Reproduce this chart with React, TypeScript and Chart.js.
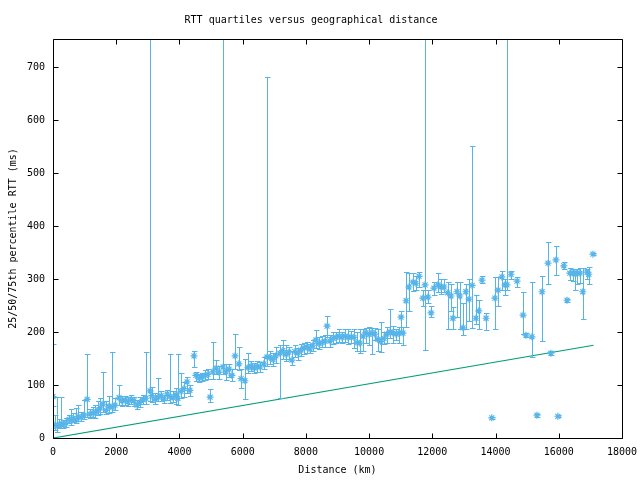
import React, { useEffect, useRef } from "react";
import { Chart, registerables } from "chart.js";

Chart.register(...registerables);

const TITLE = "RTT quartiles versus geographical distance";
const X_TITLE = "Distance (km)";
const Y_TITLE = "25/50/75th percentile RTT (ms)";
const X_TICKS = [0, 2000, 4000, 6000, 8000, 10000, 12000, 14000, 16000, 18000];
const Y_TICKS = [0, 100, 200, 300, 400, 500, 600, 700];
const X_MAX = 18000;
const Y_MAX = 753;

// distance bins (km)
const distanceKm = [
  0, 60, 130, 190, 250, 320, 410, 510, 570, 630, 730, 790, 890, 980, 1080, 1170, 1270, 1330, 1420, 1490,
  1580, 1680, 1770, 1870, 1960, 2090, 2180, 2280, 2370, 2470, 2560, 2660, 2750, 2850, 2940, 3070, 3130, 3230, 3320, 3420,
  3510, 3610, 3700, 3800, 3890, 3950, 4050, 4140, 4240, 4330, 4460, 4520, 4620, 4710, 4810, 4900, 4970, 5060, 5160, 5250,
  5380, 5470, 5570, 5660, 5760, 5880, 5950, 6070, 6170, 6260, 6360, 6450, 6550, 6670, 6770, 6860, 6960, 7050, 7180, 7270,
  7370, 7460, 7560, 7650, 7750, 7840, 7940, 8030, 8130, 8220, 8320, 8410, 8510, 8600, 8670, 8760, 8860, 8950, 9050, 9140,
  9240, 9330, 9430, 9520, 9620, 9710, 9810, 9900, 10000, 10090, 10180, 10280, 10370, 10470, 10560, 10660, 10750, 10850, 10940, 11010,
  11070, 11170, 11260, 11390, 11480, 11580, 11700, 11770, 11860, 11960, 12050, 12180, 12270, 12370, 12490, 12590, 12650, 12780, 12870, 12970,
  13060, 13160, 13260, 13380, 13470, 13570, 13700, 13880, 13980, 14080, 14200, 14300, 14360, 14490, 14680, 14870, 14960, 15150, 15310, 15470,
  15660, 15750, 15910, 15970, 16160, 16260, 16350, 16450, 16510, 16570, 16670, 16760, 16890, 16950, 17080,
];

// 25th percentile RTT (ms)
const rttP25 = [
  60, 15, 12, 18, 18, 18, 20, 28, 25, 30, 28, 33, 32, 36, 40, 38, 40, 38, 43, 45,
  50, 45, 48, 50, 52, 62, 60, 62, 60, 64, 60, 55, 58, 64, 65, 70, 68, 65, 70, 70,
  66, 72, 66, 68, 65, 62, 75, 78, 85, 80, 134, 108, 105, 108, 110, 112, 68, 112, 120, 112,
  120, 110, 116, 108, 130, 128, 95, 73, 122, 126, 122, 125, 124, 130, 135, 140, 135, 142, 75, 150,
  145, 150, 138, 152, 148, 155, 158, 160, 160, 165, 170, 168, 172, 172, 190, 172, 178, 180, 182, 180,
  182, 178, 180, 170, 165, 160, 165, 180, 175, 158, 185, 165, 162, 178, 180, 188, 180, 185, 180, 200,
  175, 210, 240, 278, 280, 285, 250, 166, 255, 228, 270, 275, 272, 275, 205, 240, 205, 228, 205, 195,
  205, 220, 208, 216, 205, 292, 204, 35, 205, 250, 280, 270, 280, 300, 285, 196, 190, 153, 40, 183,
  290, 156, 307, 39, 318, 257, 298, 296, 280, 290, 293, 224, 300, 290, 345,
];

// median RTT (ms)
const rttP50 = [
  78, 24, 22, 24, 26, 25, 28, 35, 33, 37, 34, 40, 39, 43, 73, 45, 47, 48, 52, 57,
  64, 52, 60, 58, 62, 76, 70, 72, 68, 73, 70, 62, 67, 72, 75, 89, 80, 73, 77, 80,
  74, 83, 78, 76, 82, 75, 88, 93, 106, 90, 155, 118, 113, 115, 118, 120, 77, 125, 132, 124,
  134, 125, 130, 118, 155, 140, 112, 108, 133, 136, 132, 135, 134, 140, 153, 152, 148, 155, 160, 165,
  158, 162, 147, 163, 160, 166, 170, 172, 168, 175, 185, 178, 180, 183, 211, 183, 188, 190, 192, 190,
  192, 190, 191, 190, 180, 179, 192, 199, 195, 199, 196, 186, 182, 188, 196, 200, 198, 196, 198, 228,
  198, 259, 285, 294, 292, 305, 264, 289, 266, 236, 283, 289, 285, 285, 274, 268, 226, 276, 268, 208,
  276, 262, 288, 226, 240, 298, 226, 38, 264, 279, 304, 289, 289, 309, 296, 232, 194, 191, 43, 276,
  330, 160, 336, 41, 325, 260, 311, 311, 311, 311, 311, 276, 313, 309, 347,
];

// 75th percentile RTT (ms)
const rttP75 = [
  177, 43, 78, 35, 78, 34, 38, 44, 55, 48, 56, 62, 50, 72, 158, 55, 58, 62, 70, 75,
  124, 70, 80, 162, 75, 100, 80, 80, 78, 82, 78, 72, 78, 82, 163, 760, 96, 84, 113, 88,
  82, 90, 158, 88, 95, 158, 122, 105, 115, 100, 164, 125, 120, 122, 128, 130, 92, 181, 148, 135,
  760, 140, 140, 130, 196, 171, 130, 150, 160, 146, 142, 145, 144, 152, 682, 165, 160, 172, 175, 185,
  175, 172, 165, 175, 170, 177, 180, 182, 178, 185, 204, 190, 192, 195, 230, 195, 200, 200, 205, 200,
  205, 205, 202, 205, 200, 206, 205, 208, 210, 208, 208, 205, 219, 200, 210, 243, 212, 205, 210, 240,
  210, 313, 311, 311, 305, 313, 280, 760, 280, 250, 295, 311, 300, 300, 294, 290, 247, 294, 295, 255,
  290, 300, 551, 270, 260, 305, 236, 40, 303, 303, 315, 300, 760, 315, 303, 276, 198, 294, 45, 305,
  370, 165, 362, 43, 332, 263, 320, 318, 316, 318, 320, 320, 318, 323, 349,
];

// propagation lower bound line
const boundKm = [0, 17100];
const boundRtt = [0, 175];

const BLUE = "#56b4e9";
const GREEN = "#009e73";
const FONT = { family: "'DejaVu Sans Mono', monospace", size: 10 };

const errorBarPlugin = {
  id: "errorBars",
  afterDatasetsDraw(chart: any) {
    const { ctx, chartArea, scales } = chart;
    const xs = scales.x;
    const ys = scales.y;
    ctx.save();
    ctx.beginPath();
    ctx.rect(chartArea.left, chartArea.top, chartArea.right - chartArea.left, chartArea.bottom - chartArea.top);
    ctx.clip();
    ctx.strokeStyle = BLUE;
    ctx.lineWidth = 1;
    ctx.beginPath();
    for (let i = 0; i < distanceKm.length; i++) {
      const x = Math.round(xs.getPixelForValue(distanceKm[i])) + 0.5;
      const yl = Math.round(ys.getPixelForValue(rttP25[i])) + 0.5;
      const yh = Math.round(ys.getPixelForValue(rttP75[i])) + 0.5;
      ctx.moveTo(x, yl);
      ctx.lineTo(x, yh);
      ctx.moveTo(x - 2.5, yl);
      ctx.lineTo(x + 3, yl);
      ctx.moveTo(x - 2.5, yh);
      ctx.lineTo(x + 3, yh);
    }
    ctx.stroke();
    ctx.restore();
  },
  afterDraw(chart: any) {
    const { ctx, chartArea, scales } = chart;
    const { left, right, top, bottom } = chartArea;
    const L = Math.round(left) + 0.5;
    const R = Math.round(right) + 0.5;
    const T = Math.round(top) + 0.5;
    const B = Math.round(bottom) + 0.5;
    ctx.save();
    ctx.strokeStyle = "#000";
    ctx.lineWidth = 1;
    ctx.beginPath();
    ctx.rect(L, T, R - L, B - T);
    const len = 5;
    for (const v of X_TICKS) {
      const x = Math.round(scales.x.getPixelForValue(v)) + 0.5;
      ctx.moveTo(x, B);
      ctx.lineTo(x, B - len);
      ctx.moveTo(x, T);
      ctx.lineTo(x, T + len);
    }
    for (const v of Y_TICKS) {
      const y = Math.round(scales.y.getPixelForValue(v)) + 0.5;
      ctx.moveTo(L, y);
      ctx.lineTo(L + len, y);
      ctx.moveTo(R, y);
      ctx.lineTo(R - len, y);
    }
    ctx.stroke();
    ctx.restore();
  },
};

export default function App() {
  const canvasRef = useRef<HTMLCanvasElement | null>(null);

  useEffect(() => {
    const canvas = canvasRef.current;
    if (!canvas) return;
    const medianPoints = distanceKm.map((d, i) => ({ x: d, y: rttP50[i] }));
    const boundPoints = boundKm.map((d, i) => ({ x: d, y: boundRtt[i] }));

    const chart = new Chart(canvas, {
      type: "scatter",
      data: {
        datasets: [
          {
            label: "median",
            data: medianPoints,
            pointStyle: "star",
            pointRadius: 3.5,
            pointBorderWidth: 1.2,
            borderColor: BLUE,
            backgroundColor: BLUE,
            showLine: false,
          },
          {
            label: "bound",
            data: boundPoints,
            showLine: true,
            borderColor: GREEN,
            borderWidth: 1.2,
            pointRadius: 0,
            fill: false,
          },
        ],
      },
      options: {
        animation: false,
        responsive: false,
        maintainAspectRatio: false,
        events: [],
        layout: { padding: { left: 0, right: 18, top: 0, bottom: 0 } },
        plugins: {
          legend: { display: false },
          tooltip: { enabled: false },
          title: {
            display: true,
            text: TITLE,
            color: "#000",
            font: { ...FONT, weight: "normal" },
            padding: { top: 14, bottom: 13 },
          },
        },
        scales: {
          x: {
            type: "linear",
            min: 0,
            max: X_MAX,
            grid: { display: false, drawTicks: false },
            border: { display: false },
            afterBuildTicks: (s: any) => {
              s.ticks = X_TICKS.map((v) => ({ value: v }));
            },
            afterFit: (s: any) => {
              s.height = 42;
              s.paddingLeft = 0;
              s.paddingRight = 0;
            },
            ticks: {
              color: "#000",
              font: FONT,
              padding: 8,
              maxRotation: 0,
              autoSkip: false,
              callback: (v: any) => String(v),
            },
            title: {
              display: true,
              text: X_TITLE,
              color: "#000",
              font: FONT,
              padding: { top: 0, bottom: 4 },
            },
          },
          y: {
            type: "linear",
            min: 0,
            max: Y_MAX,
            grid: { display: false, drawTicks: false },
            border: { display: false },
            afterBuildTicks: (s: any) => {
              s.ticks = Y_TICKS.map((v) => ({ value: v }));
            },
            afterFit: (s: any) => {
              s.width = 53;
              s.paddingTop = 0;
              s.paddingBottom = 0;
            },
            ticks: {
              color: "#000",
              font: FONT,
              padding: 8,
              autoSkip: false,
              callback: (v: any) => String(v),
            },
            title: {
              display: true,
              text: Y_TITLE,
              color: "#000",
              font: FONT,
              padding: { top: 7, bottom: 0 },
            },
          },
        },
      },
      plugins: [errorBarPlugin],
    });
    return () => chart.destroy();
  }, []);

  return (
    <div style={{ position: "fixed", left: 0, top: 0, width: 640, height: 480, background: "#fff" }}>
      <canvas ref={canvasRef} width={640} height={480} style={{ width: 640, height: 480, display: "block" }} />
    </div>
  );
}
